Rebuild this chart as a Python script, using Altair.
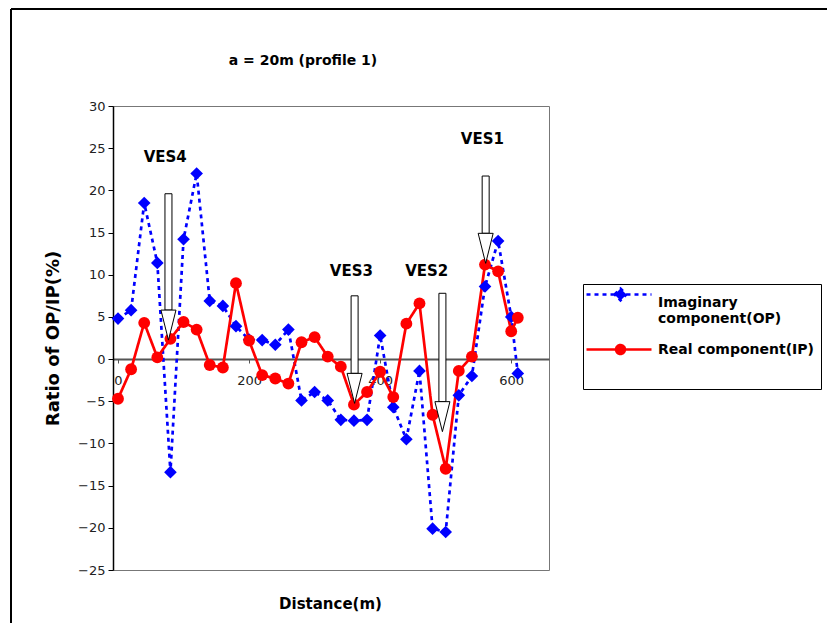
import altair as alt
import pandas as pd

# ---------------- data ----------------
distance = [0, 20, 40, 60, 80, 100, 120, 140, 160, 180, 200, 220, 240, 260, 280, 300,
            320, 340, 360, 380, 400, 420, 440, 460, 480, 500, 520, 540, 560, 580, 600, 610]
imaginary = [4.8, 5.8, 18.5, 11.4, -13.4, 14.2, 22.0, 6.9, 6.3, 3.9, 2.3, 2.25, 1.7, 3.5, -4.9, -3.9,
             -4.9, -7.2, -7.3, -7.2, 2.8, -5.7, -9.5, -1.4, -20.1, -20.5, -4.3, -2.0, 8.6, 14.0, 5.0, -1.7]
real = [-4.7, -1.2, 4.3, 0.2, 2.4, 4.4, 3.5, -0.7, -1.0, 9.0, 2.2, -1.9, -2.3, -2.9, 2.0, 2.6,
        0.3, -0.9, -5.4, -3.9, -1.5, -4.5, 4.2, 6.6, -6.6, -13.0, -1.4, 0.3, 11.2, 10.4, 3.3, 4.9]
series_names = ["Imaginary component(OP)", "Real component(IP)"]

# VES sounding markers (arrows)
ves_names = ["VES4", "VES3", "VES2", "VES1"]
ves_x = [77, 361, 495, 561]
ves_top = [19.6, 7.5, 7.8, 21.7]
ves_tip = [2.25, -5.25, -8.6, 11.35]
ves_label_x = [72, 356, 471, 556]
ves_label_y = [24.0, 10.4, 10.4, 26.1]
head_len = 3.56

y_ticks = list(range(-25, 31, 5))
x_ticks = [0, 200, 400, 600]

# ---------------- tables ----------------
df = pd.DataFrame({
    "distance": distance + distance,
    "value": imaginary + real,
    "series": [series_names[0]] * len(distance) + [series_names[1]] * len(distance),
})
arrows = pd.DataFrame({
    "name": ves_names,
    "distance": ves_x,
    "value": ves_tip,
    "top": ves_top,
    "base": [t + head_len for t in ves_tip],
})
labels = pd.DataFrame({"name": ves_names, "distance": ves_label_x, "value": ves_label_y})
one = pd.DataFrame({"k": [0]})

FONT = "DejaVu Sans"

x_axis = alt.Axis(values=x_ticks, offset=-211, title="Distance(m)", titleFont=FONT,
                  titleFontWeight="bold", titleFontSize=15, titleColor="black",
                  titleX=217, titleY=244, titleBaseline="middle",
                  labelFont=FONT, labelFontSize=13, labelColor="#222", labelPadding=11,
                  labelFlush=False, tickSize=4, tickColor="#555", domainColor="#555",
                  domainWidth=2, grid=False)
y_axis = alt.Axis(values=y_ticks, title="Ratio of OP/IP(%)", titleFont=FONT,
                  titleFontWeight="bold", titleFontSize=18, titleColor="black",
                  titleX=-60, titleY=232, titleAngle=270, titleBaseline="middle", titleAlign="center",
                  labelFont=FONT, labelFontSize=13, labelColor="#222", labelPadding=3,
                  tickSize=5, tickColor="black", domainColor="black", domainWidth=1.5, grid=False)

x_scale = alt.Scale(domain=[0, 650], nice=False)
y_scale = alt.Scale(domain=[-25, 30], nice=False, zero=False)


def X():
    return alt.X("distance:Q", scale=x_scale, axis=x_axis)


def Y():
    return alt.Y("value:Q", scale=y_scale, axis=y_axis)


imag_sym = "M-1.5,-0.8L5,-0.8M1.3,-0.8L1.9,-1.4L2.5,-0.8L1.9,-0.2Z"
real_sym = "M-1.5,0L5,0M1.45,0A0.45,0.45,0,1,1,2.35,0A0.45,0.45,0,1,1,1.45,0Z"

color_scale = alt.Scale(domain=series_names, range=["#0000FF", "#FF0000"])
stroke_scale = alt.Scale(domain=series_names, range=["#0000FF", "#FF0000"])
dash_scale = alt.Scale(domain=series_names, range=[[4, 4], [1, 0]])
shape_scale = alt.Scale(domain=series_names, range=[imag_sym, real_sym])

legend = alt.Legend(
    title=" ", titleOrient="bottom", titleFontSize=11, titlePadding=12,
    orient="none", legendX=470, legendY=178, padding=7,
    strokeColor="black", fillColor="white",
    labelFont=FONT, labelFontWeight="bold", labelFontSize=14, labelColor="black",
    labelOffset=45, labelLimit=400, symbolSize=400, symbolStrokeWidth=2.5,
    symbolOpacity=1, rowPadding=12,
    labelExpr="datum.label == 'Imaginary component(OP)' ? ['Imaginary', 'component(OP)'] : datum.label",
)

# frame decoration (chart-area border, top and left edges)
frame_top = alt.Chart(one).mark_rule(color="black", strokeWidth=2).encode(
    x=alt.value(-102), x2=alt.value(714), y=alt.value(-97))
frame_left = alt.Chart(one).mark_rule(color="black", strokeWidth=2).encode(
    x=alt.value(-102), y=alt.value(-97), y2=alt.value(517))

# legend source (draws no marks; the legend is read from the scales)
legend_layer = alt.Chart(df).transform_filter("false").mark_point(filled=True, opacity=1).encode(
    x=X(), y=Y(),
    color=alt.Color("series:N", scale=color_scale, legend=legend),
    stroke=alt.Stroke("series:N", scale=stroke_scale, legend=legend),
    shape=alt.Shape("series:N", scale=shape_scale, legend=legend),
    strokeDash=alt.StrokeDash("series:N", scale=dash_scale, legend=legend),
)

lines = alt.Chart(df).mark_line(strokeWidth=2.7).encode(
    x=X(), y=Y(),
    color=alt.Color("series:N", scale=color_scale, legend=None),
    strokeDash=alt.StrokeDash("series:N", scale=dash_scale, legend=None),
)

blue_pts = alt.Chart(df).transform_filter(alt.datum.series == series_names[0]).mark_point(
    shape="diamond", filled=True, size=160, color="#0000FF", opacity=1).encode(x=X(), y=Y())
red_pts = alt.Chart(df).transform_filter(alt.datum.series == series_names[1]).mark_point(
    shape="circle", filled=True, size=140, color="#FF0000", opacity=1).encode(x=X(), y=Y())

shafts = alt.Chart(arrows).mark_bar(size=7, fill="white", stroke="black", strokeWidth=1).encode(
    x=X(), y=alt.Y("top:Q", scale=y_scale, axis=y_axis), y2=alt.Y2("base:Q"))
heads = alt.Chart(arrows).mark_point(shape="M-0.75,-3L0.75,-3L0,0Z", size=400, filled=True,
                                      fill="white", stroke="black", strokeWidth=1,
                                      opacity=1).encode(x=X(), y=Y())
ves_text = alt.Chart(labels).mark_text(font=FONT, fontWeight="bold", fontSize=15,
                                       color="black").encode(x=X(), y=Y(), text="name:N")

chart = alt.layer(
    frame_top, frame_left, legend_layer, lines, blue_pts, red_pts, shafts, heads, ves_text
).properties(
    width=436, height=464,
    title=alt.TitleParams("a = 20m (profile 1)", font=FONT, fontWeight="bold", fontSize=14,
                          color="black", dx=-28, offset=-67, baseline="middle", frame="group"),
    autosize=alt.AutoSizeParams(type="none"),
    padding={"left": 105, "top": 98, "right": 278, "bottom": 53},
    background="white",
).configure_view(stroke="#777", strokeWidth=1)

chart.save("out.html", embed_options={"renderer": "svg", "actions": False})
